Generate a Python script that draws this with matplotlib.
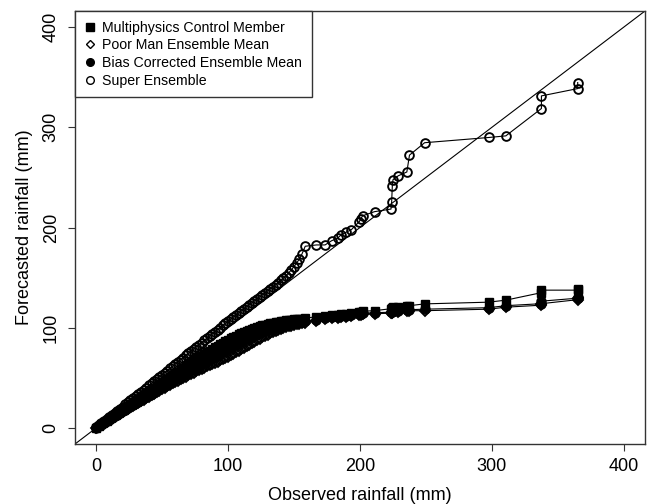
import matplotlib as mpl
import matplotlib.pyplot as plt
from matplotlib.lines import Line2D

mpl.use('Agg')
plt.rcParams['font.family'] = ['Liberation Sans', 'DejaVu Sans']

# observed quantiles (shared by all series)
observado = [0, 2, 4, 6, 8, 10, 12, 14, 16, 18, 20, 22, 24, 26, 28, 30, 32, 34, 36, 38,
             40, 42, 44, 46, 48, 50, 52, 54, 56, 58, 60, 62, 64, 66, 68, 70, 72, 74, 76, 78,
             80, 82, 84, 86, 88, 90, 92, 94, 96, 98, 100, 102, 104, 106, 108, 110, 112, 114,
             116, 118, 120, 122, 124, 126, 128, 130, 132, 134, 136, 138, 140, 142, 144, 146,
             148, 150, 152, 154, 156,
             158.5, 167, 173.5, 178.5, 183, 185.5, 189.5, 193.5, 199.5, 200.5, 202, 211,
             223.5, 224, 224.5, 225, 229, 235.5, 237.5, 249, 297.5, 310.5, 337.5, 337.5,
             365, 365]

# forecasted quantiles
multifisica = [0, 1.8, 3.7, 5.5, 7.4, 9.2, 11, 12.9, 14.7, 16.6, 18.4, 20.2, 22, 23.8, 25.6,
               27.4, 29.2, 31, 32.8, 34.6, 36.4, 38.2, 40, 41.8, 43.6, 45.4, 47.2, 49, 50.8,
               52.6, 54.4, 56.2, 58, 59.8, 61.6, 63.4, 65.2, 67, 68.7, 70.4, 72.1, 73.8,
               75.5, 77.2, 78.9, 80.5, 82, 83.5, 85, 86.5, 88, 89.4, 90.8, 92.1, 93.4, 94.6,
               95.8, 96.9, 98, 99, 100, 100.9, 101.7, 102.5, 103.2, 103.9, 104.5, 105.1,
               105.6, 106.1, 106.5, 106.9, 107.3, 107.7, 108, 108.3, 108.6, 108.9, 109.2,
               109.5, 111, 112, 112.5, 113, 113.5, 114, 114.5, 115.5, 116, 116.5, 117,
               119, 119.5, 120, 120.5, 121, 121.5, 122, 123.8, 125.5, 127.5, 135, 137.5,
               137.5, 139]

pobre = [0, 1.6, 3.2, 4.8, 6.4, 8, 9.6, 11.2, 12.8, 14.4, 16, 17.5, 19, 20.5, 22, 23.5, 25,
         26.5, 28, 29.5, 31, 32.5, 34, 35.5, 37, 38.5, 40, 41.5, 43, 44.5, 46, 47.3, 48.6,
         49.9, 51.2, 52.5, 53.8, 55.1, 56.4, 57.7, 59, 60.2, 61.4, 62.6, 63.8, 65, 66.2,
         67.4, 68.6, 69.8, 71, 72.5, 74, 75.5, 77, 78.5, 80, 81.5, 83, 84.5, 86, 87.5,
         89, 90.4, 91.8, 93.1, 94.4, 95.6, 96.7, 97.8, 98.8, 99.7, 100.6, 101.4, 102.1,
         102.8, 103.4, 104, 104.5,
         105, 107, 108.5, 109.5, 110, 110.5, 111, 111.5, 112.5, 113, 113.5, 114,
         114.5, 115, 115, 115.5, 116, 116.5, 117, 117, 118.5, 120.5, 122.5, 124,
         128, 129.5]

corrigido = [0, 1.7, 3.4, 5, 6.7, 8.4, 10, 11.7, 13.4, 15, 16.7, 18.3, 19.9, 21.5, 23.1,
             24.7, 26.3, 27.9, 29.5, 31.1, 32.7, 34.3, 35.9, 37.5, 39.1, 40.7, 42.3, 43.9,
             45.5, 47.1, 48.7, 50.2, 51.7, 53.2, 54.7, 56.2, 57.7, 59.2, 60.7, 62.2, 63.7,
             65.2, 66.7, 68.2, 69.7, 71.2, 72.7, 74.2, 75.7, 77.2, 78.7, 80.2, 81.7, 83.2,
             84.7, 86.1, 87.5, 88.9, 90.2, 91.5, 92.7, 93.9, 95, 96, 97, 97.9, 98.8, 99.6,
             100.4, 101.1, 101.8, 102.5, 103.1, 103.7, 104.2, 104.7, 105.2, 105.7, 106.1,
             106.5, 108, 109.5, 110.5, 111, 111.5, 112, 112.5, 113.5, 114, 114.5,
             115, 115.5, 116, 116, 116.5, 117, 117.5, 118, 118.5, 120, 122, 124, 126.5,
             129.5, 131]

super_ens = [0.5, 2.8, 5, 7, 9, 11, 13, 15.2, 17.2, 19.3, 21.4, 23.5, 25.5, 27.6, 29.7,
             31.8, 34, 36, 38.2, 40.3, 42.4, 44.5, 46.6, 48.8, 51, 53, 55.2, 57.3, 59.5,
             61.6, 63.8, 66, 68, 70.2, 72.3, 74.5, 76.6, 78.8, 81, 83, 85.2, 87.3, 89.5,
             91.6, 93.8, 96, 98, 100.2, 102.3, 104.4, 106.5, 108.5, 110.6, 112.6, 114.7,
             116.7, 118.8, 120.8, 122.8, 124.8, 126.8, 128.8, 130.8, 132.8, 134.8, 136.8,
             138.8, 140.8, 142.8, 145, 147.2, 149.5, 152, 154.8, 157.8, 161, 164.5, 168.5,
             173.5,
             181.3, 182.6, 182.6, 186.8, 189.2, 192.5, 195.3, 197.9, 205.9, 208.5, 211.7,
             215.8, 218.4, 225.7, 241.7, 247.7, 251.6, 255.4, 272.2, 284.6, 289.8, 291.4,
             318.7, 331.3, 338.6, 344.6]

nomes = ['Multiphysics Control Member', 'Poor Man Ensemble Mean',
         'Bias Corrected Ensemble Mean', 'Super Ensemble']

fig = plt.figure(figsize=(6.47, 5.04), dpi=100)
ax = fig.add_axes([75 / 647, 1 - 444 / 504, 570 / 647, 433 / 504])

ax.axline((0, 0), slope=1, color='black', lw=0.8, zorder=1)

ax.plot(observado, multifisica, color='black', lw=0.8, marker='s', ms=6.3,
        mfc='black', mec='black', zorder=3)
ax.plot(observado, pobre, color='black', lw=0.8, marker='D', ms=5.3,
        mfc='none', mec='black', mew=1.3, zorder=3)
ax.plot(observado, corrigido, color='black', lw=0.8, marker='o', ms=6.5,
        mfc='black', mec='black', zorder=3)
ax.plot(observado, super_ens, color='black', lw=0.8, marker='o', ms=6.3,
        mfc='none', mec='black', mew=1.35, zorder=4)

ax.set_xlim(-16, 416)
ax.set_ylim(-16, 416)
ax.set_xticks([0, 100, 200, 300, 400])
ax.set_yticks([0, 100, 200, 300, 400])
ax.tick_params(direction='out', length=5, width=0.8, color='#333333',
               labelsize=13, pad=5)
ax.tick_params(axis='y', pad=6)
for t in ax.get_yticklabels():
    t.set_rotation(90)
    t.set_va('center')
for s in ax.spines.values():
    s.set_color('#333333')
    s.set_linewidth(1)

ax.set_xlabel('Observed rainfall (mm)', fontsize=13, labelpad=9)
ax.set_ylabel('Forecasted rainfall (mm)', fontsize=13, labelpad=7)

handles = [
    Line2D([], [], ls='none', marker='s', ms=5.5, mfc='black', mec='black'),
    Line2D([], [], ls='none', marker='D', ms=4.5, mfc='none', mec='black'),
    Line2D([], [], ls='none', marker='o', ms=5.5, mfc='black', mec='black'),
    Line2D([], [], ls='none', marker='o', ms=5.5, mfc='none', mec='black'),
]
leg = ax.legend(handles, nomes, loc='upper left', borderaxespad=0, fontsize=10.2,
                frameon=True, fancybox=False, edgecolor='#333333', framealpha=1,
                handlelength=0.7, handletextpad=0.5, borderpad=0.7,
                labelspacing=0.25)
leg.get_frame().set_linewidth(1)

fig.savefig('out.png', dpi=100)
